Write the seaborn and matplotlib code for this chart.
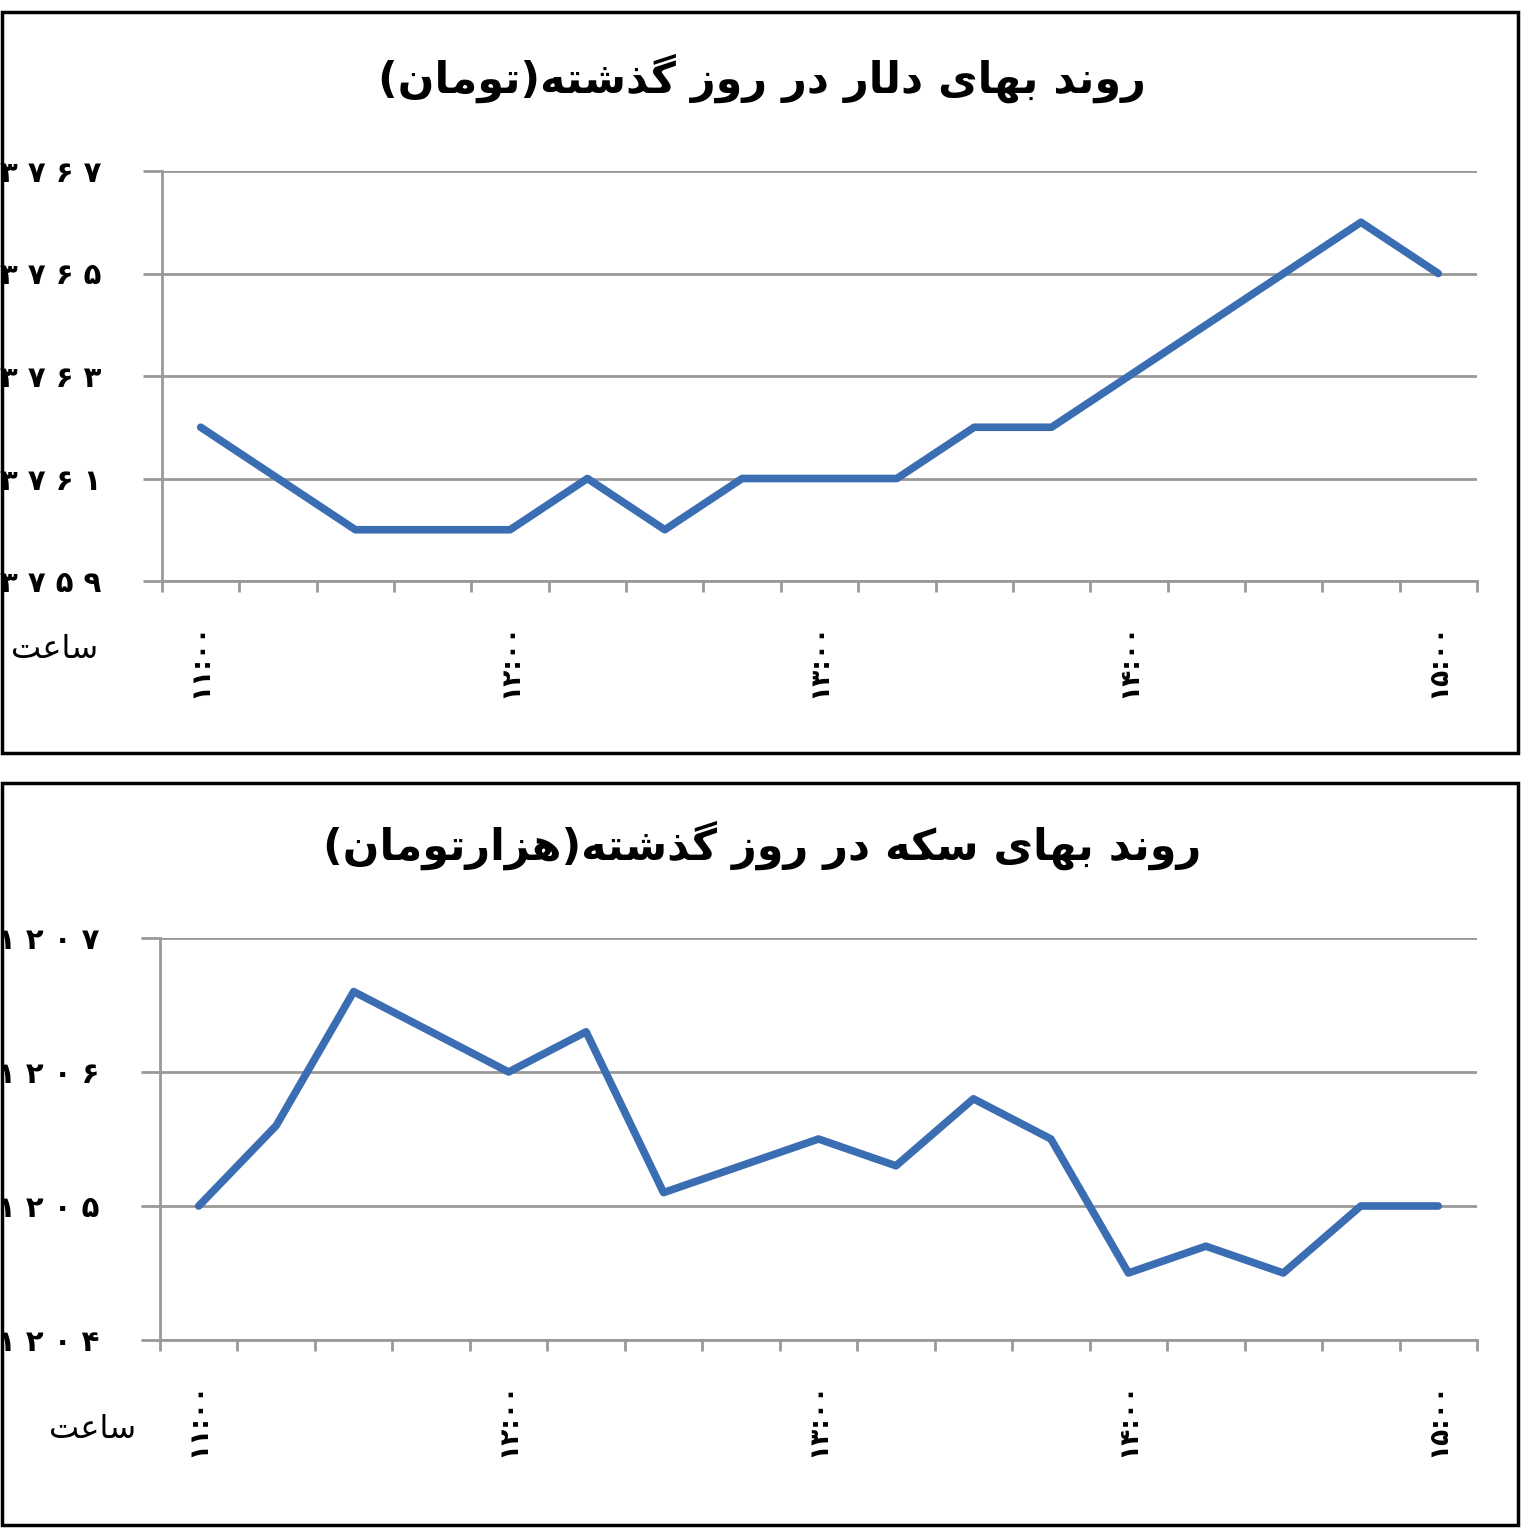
import numpy as np
import pandas as pd
import matplotlib
matplotlib.use('Agg')
import matplotlib.pyplot as plt
import seaborn as sns
from matplotlib.patches import Rectangle

# Data
HOURS = ['۱۱:۰۰', '۱۲:۰۰', '۱۳:۰۰', '۱۴:۰۰', '۱۵:۰۰']
DOLLAR = [3762, 3761, 3760, 3760, 3760, 3761, 3760, 3761, 3761, 3761,
          3762, 3762, 3763, 3764, 3765, 3766, 3765]
COIN = [1205.0, 1205.6, 1206.6, 1206.3, 1206.0, 1206.3, 1205.1, 1205.3, 1205.5,
        1205.3, 1205.8, 1205.5, 1204.5, 1204.7, 1204.5, 1205.0, 1205.0]
DOLLAR_TICKS = [3759, 3761, 3763, 3765, 3767]
COIN_TICKS = [1204, 1205, 1206, 1207]
TITLE_1 = 'روند بهای دلار در روز گذشته(تومان)'
TITLE_2 = 'روند بهای سکه در روز گذشته(هزارتومان)'
X_LABEL = 'ساعت'

# minimal Arabic/Persian shaping: isolated, final, initial, medial
FORMS = {
    'ا': (0xFE8D, 0xFE8E, None, None), 'د': (0xFEA9, 0xFEAA, None, None),
    'ذ': (0xFEAB, 0xFEAC, None, None), 'ر': (0xFEAD, 0xFEAE, None, None),
    'ز': (0xFEAF, 0xFEB0, None, None), 'و': (0xFEED, 0xFEEE, None, None),
    'ب': (0xFE8F, 0xFE90, 0xFE91, 0xFE92), 'ت': (0xFE95, 0xFE96, 0xFE97, 0xFE98),
    'س': (0xFEB1, 0xFEB2, 0xFEB3, 0xFEB4), 'ش': (0xFEB5, 0xFEB6, 0xFEB7, 0xFEB8),
    'ع': (0xFEC9, 0xFECA, 0xFECB, 0xFECC), 'ل': (0xFEDD, 0xFEDE, 0xFEDF, 0xFEE0),
    'م': (0xFEE1, 0xFEE2, 0xFEE3, 0xFEE4), 'ن': (0xFEE5, 0xFEE6, 0xFEE7, 0xFEE8),
    'ه': (0xFEE9, 0xFEEA, 0xFEEB, 0xFEEC), 'ی': (0xFBFC, 0xFBFD, 0xFBFE, 0xFBFF),
    'ک': (0xFB8E, 0xFB8F, 0xFB90, 0xFB91), 'گ': (0xFB92, 0xFB93, 0xFB94, 0xFB95),
}


def shape(text):
    out = []
    for i, ch in enumerate(text):
        if ch not in FORMS:
            out.append(ch)
            continue
        prev = text[i - 1] if i > 0 else ''
        nxt = text[i + 1] if i + 1 < len(text) else ''
        join_prev = prev in FORMS and FORMS[prev][2] is not None
        join_next = nxt in FORMS and FORMS[ch][2] is not None
        iso, fin, ini, med = FORMS[ch]
        if join_prev and join_next:
            code = med
        elif join_prev:
            code = fin
        elif join_next:
            code = ini
        else:
            code = iso
        out.append(chr(code))
    mirror = {'(': ')', ')': '('}
    return ''.join(mirror.get(c, c) for c in reversed(out))


sns.set_style('white')
plt.rcParams['font.family'] = ['DejaVu Sans']
plt.rcParams['text.color'] = 'black'
plt.rcParams['xtick.color'] = 'black'
plt.rcParams['ytick.color'] = 'black'

W, H = 1533, 1539
fig = plt.figure(figsize=(W / 100, H / 100), dpi=100)


def fx(x):
    return x / W


def fy(y):
    return 1 - y / H


line_color = '#3B6DB3'
grid_color = '#999999'
to_fa = str.maketrans('0123456789', '۰۱۲۳۴۵۶۷۸۹')

# panel frames
for top, bot in [(12, 753), (783, 1525)]:
    fig.patches.append(Rectangle((fx(2), fy(bot)), fx(1516), (bot - top) / H,
                                 transform=fig.transFigure, fill=False,
                                 edgecolor='black', linewidth=2.5))

panels = [
    (DOLLAR, DOLLAR_TICKS, TITLE_1, (162, 171, 1477, 581), 78, (55, 650)),
    (COIN, COIN_TICKS, TITLE_2, (160, 938, 1477, 1340), 845, (93, 1430)),
]

for values, yticks, title, (x0, y0, x1, y1), ty, (lx, ly) in panels:
    ax = fig.add_axes([fx(x0), fy(y1), fx(x1 - x0), (y1 - y0) / H])
    df = pd.DataFrame({'i': np.arange(len(values)), 'v': values})
    sns.lineplot(data=df, x='i', y='v', ax=ax, color=line_color, linewidth=5.5)
    ax.set_xlim(-0.5, len(values) - 0.5)
    ax.set_ylim(yticks[0], yticks[-1])
    ax.set_yticks(yticks)
    ax.set_yticklabels([' '.join(str(t).translate(to_fa)) for t in yticks],
                       fontsize=21, fontweight='bold')
    ax.set_xticks([0, 4, 8, 12, 16])
    ax.set_xticklabels(HOURS, rotation=90, fontsize=19, fontweight='bold')
    ax.set_xticks(np.arange(-0.5, len(values)), minor=True)
    ax.tick_params(axis='x', which='major', length=0, pad=30, bottom=True)
    ax.tick_params(axis='x', which='minor', length=8, width=2, color=grid_color,
                   bottom=True)
    ax.tick_params(axis='y', length=14, width=2, color=grid_color, pad=30, left=True)
    ax.yaxis.grid(True, color=grid_color, linewidth=2)
    ax.set_axisbelow(True)
    for s in ['top', 'right']:
        ax.spines[s].set_visible(False)
    for s in ['left', 'bottom']:
        ax.spines[s].set_color(grid_color)
        ax.spines[s].set_linewidth(2)
    ax.set_xlabel('')
    ax.set_ylabel('')
    fig.text(fx(762), fy(ty), shape(title), ha='center', va='center',
             fontsize=31, fontweight='bold')
    fig.text(fx(lx), fy(ly), shape(X_LABEL), ha='center', va='center', fontsize=23)

fig.savefig('out.png', dpi=100, facecolor='white')
